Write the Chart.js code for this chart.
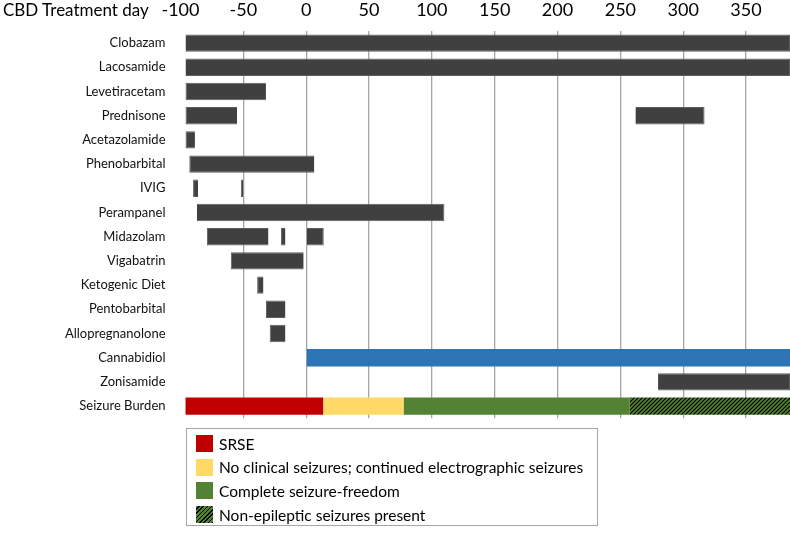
<!DOCTYPE html>
<html>
<head>
<meta charset="utf-8">
<script src="https://cdn.jsdelivr.net/npm/chart.js@4.4.1/dist/chart.umd.min.js"></script>
<style>
  body { margin: 0; background: #fff; font-family: Lato, sans-serif; }
  #wrap { position: relative; width: 790px; height: 533px; }
  #gantt { position: absolute; left: 0; top: 0; }
  #title { position: absolute; left: 3px; top: -1px; font-size: 17px; color: #000; }
  #legend {
    position: absolute; left: 186px; top: 428px; width: 412px; height: 98px;
    border: 1px solid #a6a6a6; box-sizing: border-box; padding: 3px 0 0 9px;
    font-size: 15.5px; color: #000;
  }
  .item { height: 23.6px; display: flex; align-items: center; }
  .sw { width: 17px; height: 17px; margin-right: 6px; flex: none; }
</style>
</head>
<body>
<div id="wrap">
  <canvas id="gantt" width="790" height="433"></canvas>
  <div id="title">CBD Treatment day</div>
  <div id="legend"></div>
</div>
<script>
// Các hàng (thuốc + gánh nặng co giật)
const drugs = [
  "Clobazam", "Lacosamide", "Levetiracetam", "Prednisone", "Acetazolamide",
  "Phenobarbital", "IVIG", "Perampanel", "Midazolam", "Vigabatrin",
  "Ketogenic Diet", "Pentobarbital", "Allopregnanolone", "Cannabidiol",
  "Zonisamide", "Seizure Burden"
];

// Khoảng điều trị [bắt đầu, kết thúc] theo ngày CBD
const firstCourse = [
  [-96, 385], [-96, 385], [-96, -32], [-96, -55], [-96, -88.5],
  [-93, 6.5], [-90, -86], [-87, 110], [-79, -30], [-60, -2],
  [-39, -34], [-32, -16.5], [-29, -16.5], null, [280, 385], null
];
const secondCourse = [
  null, null, null, [262, 317], null, null, [-52, -50], null,
  [-20, -16.5], null, null, null, null, null, null, null
];
const thirdCourse = [
  null, null, null, null, null, null, null, null,
  [0.5, 14], null, null, null, null, null, null, null
];
const cbdCourse = [0.5, 385];

// Gánh nặng co giật
const burdenLabels = [
  "SRSE",
  "No clinical seizures; continued electrographic seizures",
  "Complete seizure-freedom",
  "Non-epileptic seizures present"
];
const burdenRanges = [[-96, 13.5], [13.5, 77.5], [77.5, 257.5], [257.5, 385]];

const xTicks = [-100, -50, 0, 50, 100, 150, 200, 250, 300, 350];

function hatch() {
  const c = document.createElement("canvas");
  c.width = 4; c.height = 4;
  const g = c.getContext("2d");
  g.fillStyle = "#548235";
  g.fillRect(0, 0, 4, 4);
  g.strokeStyle = "#000";
  g.lineWidth = 1.2;
  g.beginPath();
  g.moveTo(-1, 5); g.lineTo(5, -1);
  g.moveTo(-1, 1); g.lineTo(1, -1);
  g.moveTo(3, 5); g.lineTo(5, 3);
  g.stroke();
  return g.createPattern(c, "repeat");
}
const pattern = hatch();
const burdenColors = ["#C00000", "#FFD966", "#548235", pattern];

function rowData(idx, range) {
  return drugs.map((d, i) => (i === idx ? range : null));
}

const datasets = [firstCourse, secondCourse, thirdCourse].map((arr, k) => ({
  label: "course" + k,
  data: arr,
  backgroundColor: "#404040",
  borderColor: "#5e5e5e",
  borderWidth: 1
}));
datasets.push({
  label: "Cannabidiol",
  data: rowData(13, cbdCourse),
  backgroundColor: "#2E75B6",
  borderWidth: 0
});
burdenLabels.forEach((lab, k) => {
  datasets.push({
    label: lab,
    data: rowData(15, burdenRanges[k]),
    backgroundColor: burdenColors[k],
    borderWidth: 0
  });
});

const ctx = document.getElementById("gantt").getContext("2d");
new Chart(ctx, {
  type: "bar",
  data: { labels: drugs, datasets: datasets },
  options: {
    indexAxis: "y",
    responsive: false,
    animation: false,
    grouped: false,
    categoryPercentage: 1,
    barPercentage: 0.72,
    layout: { padding: 0 },
    plugins: { legend: { display: false }, tooltip: { enabled: false } },
    scales: {
      x: {
        position: "top",
        min: -100,
        max: 385,
        afterBuildTicks: (s) => { s.ticks = xTicks.map((v) => ({ value: v })); },
        afterFit: (s) => { s.height = 31; },
        ticks: { font: { family: "Lato", size: 18 }, color: "#000", padding: 10 },
        grid: {
          drawTicks: false,
          lineWidth: 1.3,
          color: (c) => (c.tick && c.tick.value === -100 ? "rgba(0,0,0,0)" : "#a6a6a6")
        },
        border: { display: false }
      },
      y: {
        afterFit: (s) => { s.width = 180.5; },
        ticks: { font: { family: "Lato", size: 13 }, color: "#111", padding: 7 },
        grid: { display: false },
        border: { display: false }
      }
    }
  }
});

// Chú giải HTML
const legend = document.getElementById("legend");
burdenLabels.forEach((lab, k) => {
  const row = document.createElement("div");
  row.className = "item";
  const sw = document.createElement("span");
  sw.className = "sw";
  if (k === 3) {
    sw.style.background = "repeating-linear-gradient(135deg, #548235 0 1.8px, #000 1.8px 3px)";
  } else {
    sw.style.background = burdenColors[k];
  }
  const t = document.createElement("span");
  t.textContent = lab;
  row.appendChild(sw);
  row.appendChild(t);
  legend.appendChild(row);
});
</script>
</body>
</html>
